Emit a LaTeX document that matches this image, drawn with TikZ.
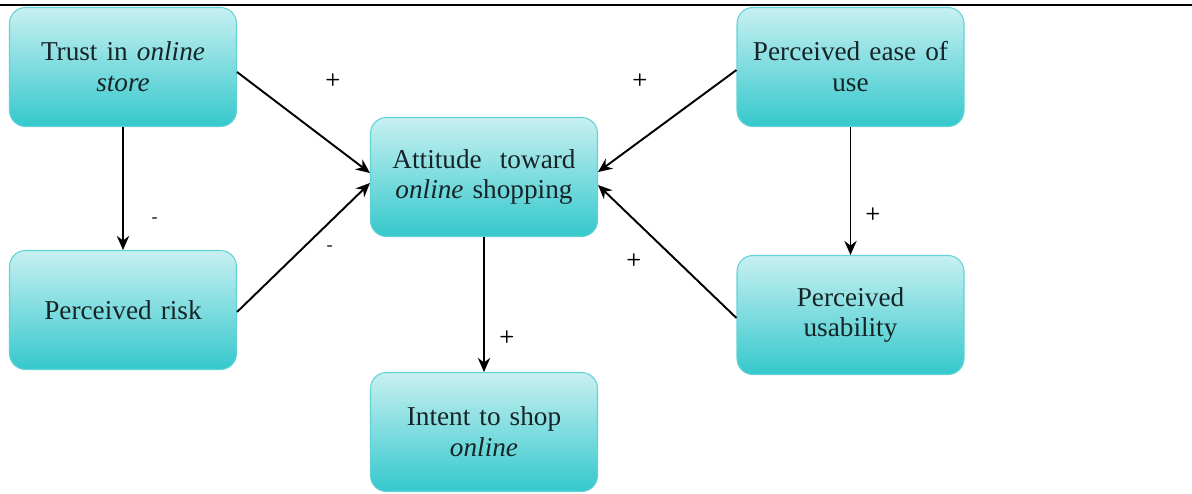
\documentclass[tikz,border=0pt]{standalone}
\usepackage{fontspec}
\setmainfont{Liberation Serif}
\usetikzlibrary{positioning, arrows.meta, calc}
\definecolor{boxtop}{RGB}{200,240,242}
\definecolor{boxbottom}{RGB}{52,200,204}
\definecolor{boxline}{RGB}{100,210,212}
\definecolor{boxtext}{RGB}{22,36,38}

\begin{document}
\begin{tikzpicture}[>={Stealth[length=8pt,width=7pt]},
        factor/.style={draw=boxline, line width=0.6pt, rounded corners=0.32cm,
          top color=boxtop, bottom color=boxbottom, minimum width=4.54cm,
          minimum height=2.38cm, text width=4.3cm, align=center,
          text=boxtext, font=\fontsize{15.5}{17.6}\selectfont},
        link/.style={->, line width=1.1pt},
        sign/.style={font=\sffamily\bfseries}]
      \useasboundingbox (0,0) rectangle (23.84,-9.86);
      % Rule above the figure
      \draw[line width=1.1pt] (0,-0.1) -- (23.84,-0.1);
      % Factors
      \node[factor] (trust) at (2.46,-1.34) {Trust in \textit{online}\\ \textit{store}};
      \node[factor] (risk) at (2.46,-6.20) {Perceived risk};
      \node[factor] (attitude) at (9.68,-3.54) {Attitude\ \ toward\\ \textit{online} shopping};
      \node[factor] (intent) at (9.68,-8.64) {Intent to shop\\ \textit{online}};
      \node[factor] (ease) at (17.01,-1.34) {Perceived ease of\\ use};
      \node[factor] (usability) at (17.01,-6.30) {Perceived\\ usability};
      % Relations
      \draw[link] (trust.south) -- (risk.north);
      \draw[link] ([yshift=-0.1cm]trust.east) -- ([yshift=0.08cm]attitude.west);
      \draw[link] ([yshift=-0.04cm]risk.east) -- ([yshift=-0.12cm]attitude.west);
      \draw[link] ([yshift=-0.06cm]ease.west) -- ([yshift=0.1cm]attitude.east);
      \draw[link] ([yshift=-0.06cm]usability.west) -- ([yshift=-0.16cm]attitude.east);
      \draw[link] (ease.south) -- (usability.north);
      \draw[link] (attitude.south) -- (intent.north);
      % Signs
      \node[sign] (s1) at (6.66,-1.60) {+};
      \node[sign] (s2) at (3.10,-4.40) {-};
      \node[sign] (s3) at (6.60,-4.96) {-};
      \node[sign] (s4) at (12.80,-1.60) {+};
      \node[sign] (s5) at (12.68,-5.20) {+};
      \node[sign] (s6) at (17.46,-4.28) {+};
      \node[sign] (s7) at (10.14,-6.74) {+};
    \end{tikzpicture}
\end{document}
